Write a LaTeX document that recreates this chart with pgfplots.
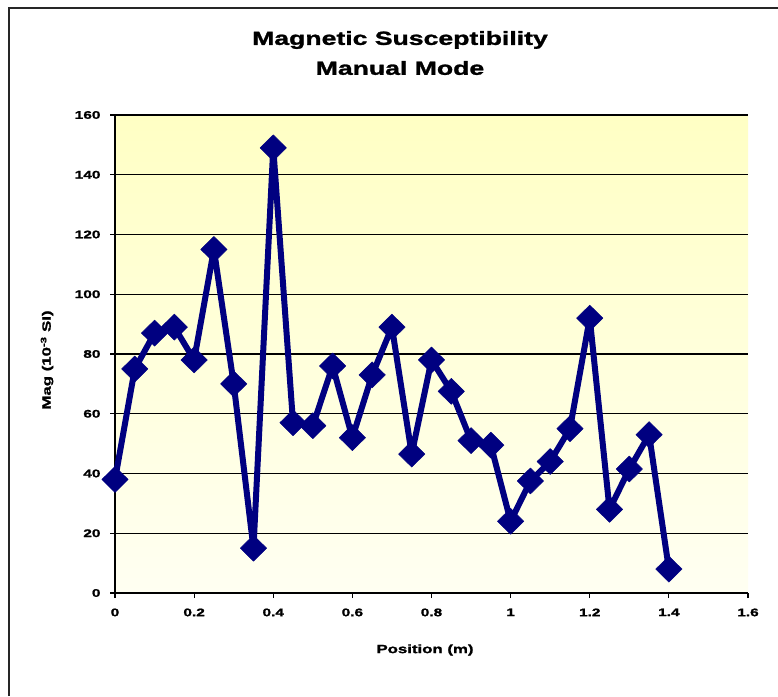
\documentclass[border=0pt]{standalone}
\usepackage{fontspec}
\setmainfont{Liberation Sans}
\newfontfamily\bk{Liberation Sans}[FakeStretch=1.4, BoldFeatures={FakeBold=1.5}]
\usepackage{pgfplots}
\pgfplotsset{compat=1.18}
\definecolor{navy}{RGB}{0,0,128}
\definecolor{bgtop}{RGB}{255,255,196}
\definecolor{bgbot}{RGB}{255,255,242}
\begin{document}
\begin{tikzpicture}[x=1pt,y=1pt]
\useasboundingbox (0,0) rectangle (778,696);
\fill[white] (0,0) rectangle (778,696);
\draw[line width=2.2pt,black!85] (9,0) -- (9,688) -- (778,688);
\begin{axis}[
  at={(115pt,103pt)}, anchor=south west,
  scale only axis, width=633pt, height=478pt,
  xmin=0, xmax=1.6, ymin=0, ymax=160,
  xtick={0,0.2,...,1.6}, ytick={0,20,...,160},
  axis x line*=bottom, axis y line*=left,
  axis line style={line width=1.2pt,-},
  ymajorgrids, grid style={line width=1.1pt,black},
  major tick length=5pt, tick style={line width=1.2pt,black},
  xtick align=outside, ytick align=outside,
  /pgf/number format/assume math mode=true,
  /pgf/number format/.cd, fixed, /pgfplots/.cd,
  xticklabel style={font=\bk\bfseries\fontsize{11}{11}\selectfont, yshift=-7pt},
  yticklabel style={font=\bk\bfseries\fontsize{11}{11}\selectfont, xshift=-6pt},
  axis background/.style={top color=bgtop, bottom color=bgbot},
  clip=false,
]
\addplot[navy, line width=6pt, line join=round, mark=diamond*, mark size=13pt,
  mark options={fill=navy, draw=navy, line width=0.5pt, xscale=1.35}] coordinates {
(0,38) (0.05,75) (0.1,87) (0.15,89) (0.2,78) (0.25,115) (0.3,70) (0.35,15)
(0.4,149) (0.45,57) (0.5,56) (0.55,76) (0.6,52) (0.65,73) (0.7,89) (0.75,46.5)
(0.8,78) (0.85,67.5) (0.9,51) (0.95,49.5) (1.0,24) (1.05,37.5) (1.1,44) (1.15,55)
(1.2,92) (1.25,28) (1.3,41.5) (1.35,53) (1.4,8)
};
\end{axis}
\node[font=\bk\bfseries\fontsize{19}{19}\selectfont] at (400,656) {Magnetic Susceptibility};
\node[font=\bk\bfseries\fontsize{19}{19}\selectfont] at (400,628) {Manual Mode};
\node[font=\bk\bfseries\fontsize{12}{12}\selectfont, rotate=90] at (47,336) {Mag (10\textsuperscript{-3} SI)};
\node[font=\bk\bfseries\fontsize{12}{12}\selectfont] at (425,46) {Position (m)};
\end{tikzpicture}
\end{document}
